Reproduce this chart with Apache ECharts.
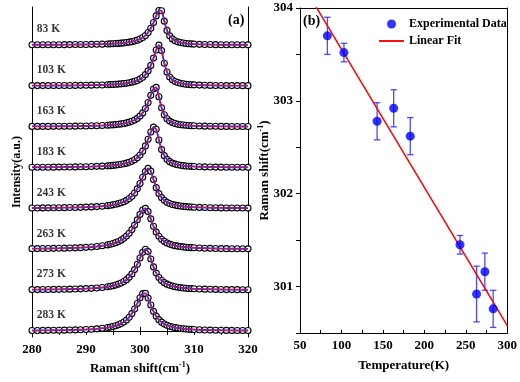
<!DOCTYPE html>
<html><head><meta charset="utf-8">
<script src="https://cdn.jsdelivr.net/npm/echarts@6/dist/echarts.min.js"></script>
<style>html,body{margin:0;padding:0;background:#fff}#c{width:520px;height:382px}</style>
</head><body><div id="c"></div>
<script>
// ---------- Panel (a): Raman spectra ----------
const ramanX = [280,281,282,283,284,285,286,287,288,289,290,291,292,293,
  294,294.5,295,295.5,296,296.5,297,297.5,298,298.5,299,299.5,300,300.5,301,301.5,302,302.5,303,303.5,
  304,304.5,305,305.5,306,306.5,307,307.5,308,308.5,309,309.5,310,
  311,312,313,314,315,316,317,318,319,320];
const spectraNames = ['83 K','103 K','163 K','183 K','243 K','263 K','273 K','283 K'];
const spectraOffsets = [7,6,5,4,3,2,1,0];
const int83 = [0.004,0.005,0.005,0.006,0.006,0.007,0.008,0.009,0.010,0.011,0.013,0.015,0.018,0.021,
  0.025,0.028,0.031,0.035,0.039,0.045,0.051,0.059,0.069,0.081,0.097,0.118,0.145,0.182,0.234,0.307,0.410,0.549,0.712,0.844,
  0.837,0.584,0.357,0.224,0.149,0.105,0.077,0.059,0.047,0.038,0.031,0.026,0.022,
  0.016,0.013,0.010,0.008,0.007,0.006,0.005,0.004,0.004,0.003];
const int103 = [0.005,0.005,0.005,0.006,0.007,0.007,0.008,0.009,0.010,0.012,0.014,0.016,0.019,0.022,
  0.027,0.030,0.033,0.038,0.042,0.048,0.055,0.064,0.075,0.090,0.108,0.132,0.165,0.210,0.275,0.367,0.500,0.679,0.877,0.996,
  0.862,0.552,0.338,0.217,0.148,0.106,0.080,0.062,0.049,0.040,0.033,0.028,0.024,
  0.018,0.014,0.011,0.009,0.008,0.006,0.006,0.005,0.004,0.004];
const int163 = [0.006,0.006,0.007,0.007,0.008,0.009,0.010,0.012,0.013,0.015,0.018,0.021,0.024,0.029,
  0.036,0.040,0.045,0.051,0.059,0.068,0.078,0.092,0.110,0.133,0.163,0.203,0.259,0.337,0.445,0.591,0.767,0.922,
  0.961,0.731,0.462,0.292,0.194,0.136,0.100,0.076,0.060,0.048,0.039,0.033,0.028,0.024,0.021,
  0.016,0.013,0.010,0.009,0.007,0.006,0.005,0.005,0.004,0.004];
const int183 = [0.006,0.007,0.008,0.008,0.009,0.010,0.011,0.013,0.015,0.017,0.020,0.023,0.028,0.033,
  0.041,0.046,0.052,0.059,0.067,0.078,0.091,0.107,0.128,0.155,0.191,0.240,0.308,0.401,0.529,0.692,0.869,0.988,
  0.936,0.674,0.439,0.290,0.200,0.144,0.108,0.084,0.067,0.054,0.045,0.038,0.032,0.028,0.024,
  0.019,0.015,0.012,0.010,0.009,0.007,0.006,0.006,0.005,0.004];
const int243 = [0.009,0.010,0.011,0.012,0.013,0.015,0.017,0.019,0.022,0.025,0.030,0.035,0.043,0.053,
  0.066,0.075,0.086,0.099,0.116,0.136,0.162,0.196,0.240,0.298,0.376,0.478,0.609,0.761,0.903,0.978,
  0.911,0.708,0.507,0.361,0.262,0.196,0.151,0.119,0.096,0.079,0.066,0.056,0.048,0.041,0.036,0.032,0.028,
  0.023,0.019,0.016,0.013,0.011,0.010,0.009,0.008,0.007,0.006];
const int263 = [0.013,0.014,0.016,0.017,0.020,0.022,0.025,0.029,0.033,0.038,0.045,0.054,0.066,0.083,
  0.105,0.120,0.138,0.160,0.187,0.221,0.265,0.320,0.390,0.480,0.590,0.719,0.852,0.958,1.000,
  0.920,0.743,0.562,0.419,0.316,0.243,0.191,0.153,0.125,0.104,0.087,0.074,0.064,0.056,0.049,0.043,0.038,0.034,
  0.028,0.023,0.020,0.017,0.015,0.013,0.011,0.010,0.009,0.008];
const int273 = [0.010,0.011,0.012,0.013,0.015,0.017,0.019,0.022,0.025,0.029,0.035,0.041,0.051,0.063,
  0.080,0.092,0.106,0.123,0.145,0.172,0.208,0.254,0.315,0.395,0.500,0.633,0.785,0.925,0.998,
  0.941,0.760,0.566,0.415,0.308,0.233,0.181,0.144,0.117,0.096,0.081,0.068,0.059,0.051,0.045,0.039,0.035,0.031,
  0.025,0.021,0.018,0.015,0.013,0.011,0.010,0.009,0.008,0.007];
const int283 = [0.009,0.010,0.011,0.013,0.014,0.016,0.018,0.021,0.024,0.029,0.034,0.041,0.050,0.063,
  0.081,0.093,0.108,0.126,0.149,0.179,0.218,0.268,0.335,0.423,0.536,0.672,0.812,0.911,
  0.918,0.802,0.633,0.478,0.360,0.275,0.214,0.170,0.138,0.113,0.095,0.080,0.069,0.059,0.052,0.046,0.041,0.036,0.032,
  0.027,0.022,0.019,0.016,0.014,0.012,0.011,0.010,0.009,0.008];
const spectra = [int83,int103,int163,int183,int243,int263,int273,int283];

// ---------- Panel (b): peak position vs temperature ----------
const tempK = [83,103,143,163,183,243,263,273,283];
const shift = [303.70,303.52,302.78,302.92,302.62,301.45,300.92,301.16,300.76];
const shiftErr = [0.20,0.10,0.20,0.20,0.20,0.10,0.30,0.20,0.20];
const fitT = [50,300];
const fitShift = [304.30,300.58];

const FONT = 'Liberation Serif';
const txt = (size) => ({fontFamily:FONT, fontWeight:'bold', fontSize:size, color:'#000'});
const nameRich = (size) => ({
  a:{fontFamily:FONT, fontWeight:'bold', fontSize:size, color:'#000'},
  s:{fontFamily:FONT, fontWeight:'bold', fontSize:Math.round(size*0.62), color:'#000', verticalAlign:'top', padding:[0,0,8,0]}
});
const ramanName = '{a|Raman shift(cm}{s|-1}{a|)}';

const chart = echarts.init(document.getElementById('c'), null, {renderer:'canvas'});
const series = [];
spectra.forEach((vals, i) => {
  const d = ramanX.map((x, j) => [x, vals[j] + spectraOffsets[i]]);
  series.push({type:'scatter', xAxisIndex:0, yAxisIndex:0, data:d, symbol:'circle', symbolSize:6,
    itemStyle:{color:'#ffffff', borderColor:'#000', borderWidth:1.1, opacity:1}, silent:true, z:2});
  series.push({type:'line', xAxisIndex:0, yAxisIndex:0, data:d, smooth:0.25, showSymbol:false, symbol:'none',
    lineStyle:{color:'#2a2aff', width:1.9}, silent:true, z:3});
  series.push({type:'line', xAxisIndex:0, yAxisIndex:0, data:d, smooth:0.25, showSymbol:false, symbol:'none',
    lineStyle:{color:'#ff1010', width:0.9}, silent:true, z:4});
});
series.push({type:'scatter', xAxisIndex:0, yAxisIndex:0, symbolSize:0, silent:true, z:5,
  data: spectraOffsets.map((o, i) => [280.9, o + 0.38]),
  label:{show:true, position:'right', distance:0, formatter:(p)=>spectraNames[p.dataIndex], ...txt(11.5)}});

// panel b
series.push({type:'custom', name:'err', xAxisIndex:2, yAxisIndex:2, z:2, silent:true,
  data: tempK.map((t, i) => [t, shift[i], shiftErr[i]]),
  encode:{x:0, y:1},
  renderItem: (params, api) => {
    const x = api.value(0), y = api.value(1), e = api.value(2);
    const top = api.coord([x, y + e]), bot = api.coord([x, y - e]);
    const w = 3.2;
    const style = {stroke:'rgba(30,30,255,0.8)', lineWidth:1.3};
    return {type:'group', children:[
      {type:'line', shape:{x1:top[0], y1:top[1], x2:bot[0], y2:bot[1]}, style},
      {type:'line', shape:{x1:top[0]-w, y1:top[1], x2:top[0]+w, y2:top[1]}, style},
      {type:'line', shape:{x1:bot[0]-w, y1:bot[1], x2:bot[0]+w, y2:bot[1]}, style}
    ]};
  }});
series.push({type:'line', name:'Linear Fit', xAxisIndex:2, yAxisIndex:2, z:3,
  data: fitT.map((t, i) => [t, fitShift[i]]), symbol:'none', showSymbol:false, clip:true,
  lineStyle:{color:'#ff0000', width:1.5}, itemStyle:{color:'#ff0000'}});
series.push({type:'scatter', name:'Experimental Data', xAxisIndex:2, yAxisIndex:2, z:4,
  data: tempK.map((t, i) => [t, shift[i]]), symbol:'circle', symbolSize:9,
  itemStyle:{color:'#0000ff'}});

const axisLine = {show:true, lineStyle:{color:'#000', width:1}};
const option = {
  animation:false,
  backgroundColor:'#fff',
  grid:[
    {left:32, top:7, width:216, height:330},
    {left:300, top:8, width:214, height:325}
  ],
  xAxis:[
    {gridIndex:0, type:'value', min:280, max:320, interval:5, position:'bottom',
     axisLine, splitLine:{show:false},
     axisTick:{show:true, inside:true, length:4, lineStyle:{color:'#000'}},
     axisLabel:{...txt(13), margin:6, formatter:(v)=> (v % 10 === 0 ? String(v) : '')},
     name:ramanName, nameLocation:'middle', nameGap:22, nameTextStyle:{rich:nameRich(13)}},
    {gridIndex:0, type:'value', min:280, max:320, interval:5, position:'top',
     axisLine, splitLine:{show:false}, axisLabel:{show:false},
     axisTick:{show:true, inside:true, length:4, lineStyle:{color:'#000'}}},
    {gridIndex:1, type:'value', min:50, max:300, interval:25, position:'bottom',
     axisLine, splitLine:{show:false},
     axisTick:{show:true, inside:true, length:3, lineStyle:{color:'#000'}},
     axisLabel:{...txt(13), margin:6, formatter:(v)=> (v % 50 === 0 ? String(v) : '')},
     name:'Temperature(K)', nameLocation:'middle', nameGap:26, nameTextStyle:txt(13)},
    {gridIndex:1, type:'value', min:50, max:300, position:'top',
     axisLine, splitLine:{show:false}, axisLabel:{show:false}, axisTick:{show:false}}
  ],
  yAxis:[
    {gridIndex:0, type:'value', min:-0.15, max:7.93, position:'left',
     axisLine, splitLine:{show:false}, axisLabel:{show:false}, axisTick:{show:false},
     name:'Intensity(a.u.)', nameLocation:'middle', nameGap:9, nameTextStyle:txt(12)},
    {gridIndex:0, type:'value', min:-0.15, max:7.93, position:'right',
     axisLine, splitLine:{show:false}, axisLabel:{show:false}, axisTick:{show:false}},
    {gridIndex:1, type:'value', min:300.5, max:304, interval:0.5, position:'left',
     axisLine, splitLine:{show:false},
     axisTick:{show:true, inside:false, length:4, lineStyle:{color:'#000'}},
     axisLabel:{...txt(13), margin:7, formatter:(v)=> (Math.abs(v - Math.round(v)) < 1e-6 ? String(Math.round(v)) : '')},
     name:ramanName, nameLocation:'middle', nameGap:27, nameMoveOverlap:false, nameTextStyle:{rich:nameRich(13)}},
    {gridIndex:1, type:'value', min:300.5, max:304, position:'right',
     axisLine, splitLine:{show:false}, axisLabel:{show:false}, axisTick:{show:false}}
  ],
  legend:{
    data:[{name:'Experimental Data', icon:'circle'},
          {name:'Linear Fit', icon:'path://M0,0 L40,0 L40,3 L0,3 Z'}],
    orient:'vertical', left:374, top:13,
    itemWidth:25, itemHeight:9, itemGap:5, textStyle:txt(12), selectedMode:false
  },
  graphic:[
    {type:'text', left:228, top:13, style:{text:'(a)', font:'bold 14px "Liberation Serif"', fill:'#000'}},
    {type:'text', left:303, top:14, style:{text:'(b)', font:'bold 14px "Liberation Serif"', fill:'#000'}}
  ],
  series
};
chart.setOption(option);
</script></body></html>
